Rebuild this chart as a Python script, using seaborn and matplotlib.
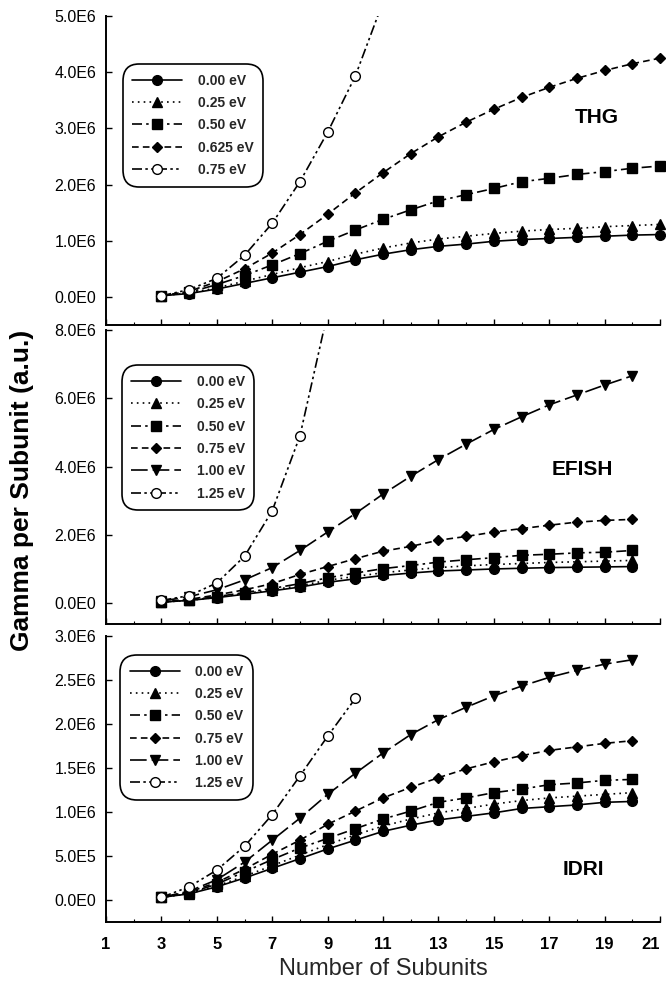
import matplotlib
matplotlib.use("Agg")
import matplotlib.pyplot as plt
import seaborn as sns
import pandas as pd
from matplotlib.ticker import MultipleLocator, FuncFormatter, FixedLocator

sns.set_theme(style="white")
plt.rcParams['font.family'] = ['Liberation Sans', 'DejaVu Sans']

# ---------------- data (values in units of 1E6) ----------------
n_thg = list(range(3, 22))
thg_000 = [0.02, 0.06, 0.14, 0.24, 0.34, 0.44, 0.54, 0.66, 0.76, 0.84, 0.90, 0.94, 0.99, 1.02, 1.04, 1.06, 1.08, 1.10, 1.11]
thg_025 = [0.02, 0.07, 0.16, 0.28, 0.40, 0.52, 0.63, 0.76, 0.87, 0.96, 1.03, 1.08, 1.13, 1.17, 1.20, 1.22, 1.25, 1.27, 1.29]
thg_050 = [0.02, 0.08, 0.22, 0.38, 0.57, 0.77, 0.99, 1.19, 1.38, 1.55, 1.71, 1.82, 1.93, 2.05, 2.11, 2.18, 2.23, 2.29, 2.33]
thg_0625 = [0.02, 0.10, 0.27, 0.50, 0.78, 1.11, 1.47, 1.85, 2.21, 2.55, 2.85, 3.11, 3.34, 3.55, 3.73, 3.89, 4.03, 4.15, 4.25]
n_thg_075 = list(range(3, 12))
thg_075 = [0.02, 0.13, 0.33, 0.74, 1.31, 2.05, 2.93, 3.93, 5.25]

n_ef = list(range(3, 21))
ef_000 = [0.04, 0.09, 0.17, 0.27, 0.37, 0.48, 0.62, 0.72, 0.82, 0.89, 0.95, 0.98, 1.01, 1.03, 1.05, 1.06, 1.07, 1.08]
ef_025 = [0.04, 0.09, 0.18, 0.29, 0.40, 0.52, 0.68, 0.79, 0.90, 0.98, 1.05, 1.10, 1.14, 1.17, 1.20, 1.22, 1.24, 1.26]
ef_050 = [0.04, 0.10, 0.20, 0.32, 0.44, 0.58, 0.75, 0.89, 1.02, 1.11, 1.21, 1.28, 1.34, 1.41, 1.44, 1.48, 1.50, 1.55]
ef_075 = [0.05, 0.12, 0.25, 0.40, 0.58, 0.85, 1.08, 1.31, 1.53, 1.67, 1.85, 1.96, 2.09, 2.19, 2.29, 2.38, 2.43, 2.46]
ef_100 = [0.07, 0.20, 0.40, 0.69, 1.05, 1.55, 2.09, 2.63, 3.20, 3.72, 4.21, 4.66, 5.09, 5.46, 5.81, 6.10, 6.39, 6.66]
n_ef_125 = list(range(3, 10))
ef_125 = [0.09, 0.23, 0.60, 1.38, 2.71, 4.90, 8.50]

n_id = list(range(3, 21))
id_000 = [0.03, 0.07, 0.15, 0.25, 0.36, 0.47, 0.58, 0.68, 0.78, 0.85, 0.91, 0.95, 0.99, 1.04, 1.06, 1.08, 1.11, 1.12]
id_025 = [0.03, 0.07, 0.16, 0.27, 0.39, 0.51, 0.63, 0.74, 0.84, 0.92, 0.99, 1.04, 1.09, 1.13, 1.16, 1.18, 1.20, 1.22]
id_050 = [0.03, 0.08, 0.18, 0.32, 0.46, 0.59, 0.70, 0.81, 0.92, 1.01, 1.11, 1.16, 1.22, 1.26, 1.31, 1.33, 1.36, 1.37]
id_075 = [0.03, 0.09, 0.20, 0.35, 0.52, 0.68, 0.86, 1.01, 1.16, 1.28, 1.39, 1.49, 1.57, 1.64, 1.70, 1.74, 1.78, 1.81]
id_100 = [0.03, 0.10, 0.23, 0.43, 0.68, 0.93, 1.20, 1.44, 1.67, 1.88, 2.05, 2.19, 2.32, 2.43, 2.53, 2.61, 2.68, 2.73]
n_id_125 = list(range(3, 11))
id_125 = [0.03, 0.15, 0.34, 0.61, 0.97, 1.41, 1.86, 2.29]

x_ticks = [1, 3, 5, 7, 9, 11, 13, 15, 17, 19, 21]
thg_yticks = [0, 1e6, 2e6, 3e6, 4e6, 5e6]
ef_yticks = [0, 2e6, 4e6, 6e6, 8e6]
id_yticks = [0, 5e5, 1e6, 1.5e6, 2e6, 2.5e6, 3e6]

# ---------------- styles ----------------
STY = {
    "circ": dict(marker="o", ls="-", mfc="black", ms=7),
    "tri": dict(marker="^", ls=(0, (1, 2.5)), mfc="black", ms=7),
    "sq": dict(marker="s", ls=(0, (6, 2.5, 1.5, 2.5)), mfc="black", ms=6.5),
    "dia": dict(marker="D", ls=(0, (4, 2.5)), mfc="black", ms=5),
    "vtri": dict(marker="v", ls=(0, (10, 3)), mfc="black", ms=7.5),
    "open": dict(marker="o", ls=(0, (6, 2, 1.5, 2, 1.5, 2)), mfc="white", ms=7),
}

panels = [
    dict(name="THG", ylim=(-0.5e6, 5e6), yticks=thg_yticks,
         series=[("0.00 eV", n_thg, thg_000, "circ"),
                 ("0.25 eV", n_thg, thg_025, "tri"),
                 ("0.50 eV", n_thg, thg_050, "sq"),
                 ("0.625 eV", n_thg, thg_0625, "dia"),
                 ("0.75 eV", n_thg_075, thg_075, "open")],
         pos=(106 / 666, 1 - 325 / 990, 554 / 666, 309 / 990),
         leg=(0.03, 0.845), lab=(0.886, 0.673)),
    dict(name="EFISH", ylim=(-0.6e6, 8e6), yticks=ef_yticks,
         series=[("0.00 eV", n_ef, ef_000, "circ"),
                 ("0.25 eV", n_ef, ef_025, "tri"),
                 ("0.50 eV", n_ef, ef_050, "sq"),
                 ("0.75 eV", n_ef, ef_075, "dia"),
                 ("1.00 eV", n_ef, ef_100, "vtri"),
                 ("1.25 eV", n_ef_125, ef_125, "open")],
         pos=(106 / 666, 1 - 624 / 990, 554 / 666, 294 / 990),
         leg=(0.028, 0.88), lab=(0.859, 0.524)),
    dict(name="IDRI", ylim=(-0.25e6, 3e6), yticks=id_yticks,
         series=[("0.00 eV", n_id, id_000, "circ"),
                 ("0.25 eV", n_id, id_025, "tri"),
                 ("0.50 eV", n_id, id_050, "sq"),
                 ("0.75 eV", n_id, id_075, "dia"),
                 ("1.00 eV", n_id, id_100, "vtri"),
                 ("1.25 eV", n_id_125, id_125, "open")],
         pos=(106 / 666, 1 - 922 / 990, 554 / 666, 286 / 990),
         leg=(0.025, 0.934), lab=(0.861, 0.185)),
]


def fmt(v, _):
    s = f"{v:.1E}"
    mant, exp = s.split("E")
    return f"{mant}E{int(exp)}"


fig = plt.figure(figsize=(6.66, 9.9), dpi=100)
fig.patch.set_facecolor("white")

for i, p in enumerate(panels):
    ax = fig.add_axes(p["pos"])
    ax.set_facecolor("white")
    for label, xs, ys, key in p["series"]:
        st = STY[key]
        df = pd.DataFrame({"n": xs, "g": [v * 1e6 for v in ys]})
        sns.lineplot(data=df, x="n", y="g", ax=ax, color="black",
                     marker=st["marker"], linestyle=st["ls"],
                     markerfacecolor=st["mfc"], markeredgecolor="black",
                     markeredgewidth=1.0, markersize=st["ms"], linewidth=1.2,
                     label=label, clip_on=(key == "open"))
    ax.set_xlim(1, 21)
    ax.set_ylim(*p["ylim"])
    ax.xaxis.set_major_locator(FixedLocator(x_ticks))
    ax.xaxis.set_minor_locator(MultipleLocator(1))
    ax.yaxis.set_major_locator(FixedLocator(p["yticks"]))
    ax.yaxis.set_major_formatter(FuncFormatter(fmt))
    for s in ["top", "right"]:
        ax.spines[s].set_visible(False)
    for s in ["left", "bottom"]:
        ax.spines[s].set_color("black")
        ax.spines[s].set_linewidth(1.4)
    ax.tick_params(axis="both", which="major", direction="in", length=4, width=1,
                   color="black", labelcolor="black")
    ax.tick_params(axis="x", which="minor", direction="in", length=2.5, width=0.8,
                   color="black", bottom=True)
    ax.tick_params(axis="y", labelsize=11.5, pad=7, left=True)
    ax.tick_params(axis="x", labelsize=12, pad=11, bottom=True)
    if i < 2:
        ax.tick_params(axis="x", labelbottom=False)
    else:
        fig.canvas.draw()
        xl = ax.get_xticklabels()
        for t in xl:
            t.set_fontweight("bold")
        xl[-1].set_horizontalalignment("right")
        xl[-1].set_x(21.4)
    ax.set_xlabel("")
    ax.set_ylabel("")
    leg = ax.legend(loc="upper left", bbox_to_anchor=p["leg"], frameon=True,
                    fancybox=True, handlelength=3.6, handletextpad=1.1,
                    labelspacing=0.6, borderpad=0.7, borderaxespad=0,
                    prop=dict(weight="bold", size=10))
    fr = leg.get_frame()
    fr.set_edgecolor("black")
    fr.set_linewidth(1.2)
    fr.set_facecolor("white")
    fr.set_alpha(1)
    fr.set_boxstyle("round,pad=0,rounding_size=1.2")
    ax.text(p["lab"][0], p["lab"][1], p["name"], transform=ax.transAxes,
            ha="center", va="center", fontsize=15, fontweight="bold", color="black")
    if i == 2:
        ax.set_xlabel("Number of Subunits", fontsize=17, labelpad=4)

fig.text(0.033, 0.505, "Gamma per Subunit (a.u.)", rotation=90, ha="center",
         va="center", fontsize=19, fontweight="bold", color="black")

fig.savefig("out.png", dpi=100, facecolor="white")
